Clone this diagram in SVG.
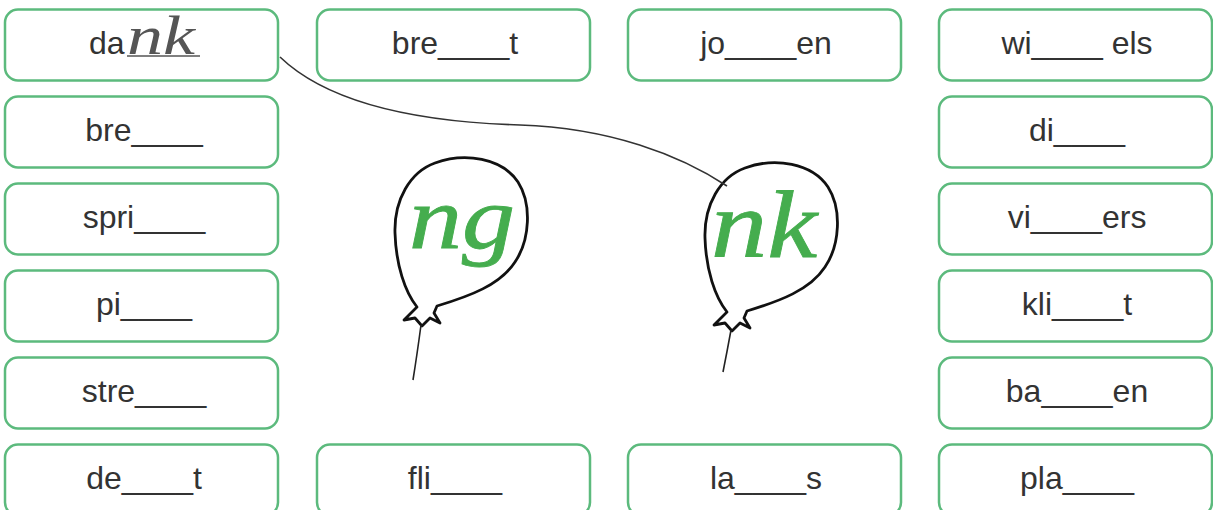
<svg xmlns="http://www.w3.org/2000/svg" width="1213" height="510" viewBox="0 0 1213 510">
<style>
.box{fill:#fff;stroke:#5cba7d;stroke-width:2.5}
.t{font-family:"Liberation Sans",Arial,sans-serif;font-size:32px;fill:#333;text-anchor:middle}
.hand{font-family:"Liberation Serif","Times New Roman",serif;font-style:italic}
.big{font-family:"Liberation Serif","Times New Roman",serif;font-style:italic;font-size:88px;fill:#45ad4e;stroke:#45ad4e;stroke-width:0.8}
.bal{fill:none;stroke:#111;stroke-width:2.8;stroke-linejoin:round}
.str{fill:none;stroke:#222;stroke-width:1.6}
.conn{fill:none;stroke:#333;stroke-width:1.6}
</style>
<defs>
<rect id="b" width="273" height="71" rx="13" class="box"/>
<path id="balloon" d="M417,307 C405,292 396,265 395,233 C394,200 410,172 435,163 C465,152 502,158 518,182 C532,204 530,240 515,262 C500,285 470,296 437,306 L434,313 L440,323 L430,318 L422,326 L415,318 L404,320 L412,312 Z"/>
</defs>
<rect width="1213" height="510" fill="#fff"/>

<g id="n-dank"><use href="#b" x="5" y="9.5"/><text class="t" y="54" style="text-anchor:start"><tspan x="89">da</tspan><tspan x="127" class="hand" style="font-size:54px;fill:#555" textLength="68" lengthAdjust="spacingAndGlyphs">nk</tspan></text><line x1="127" y1="56" x2="200" y2="56" stroke="#555" stroke-width="1.5"/></g>
<g id="n-bre"><use href="#b" x="5" y="96.5"/><text class="t" x="144" y="140.5">bre____</text></g>
<g id="n-spri"><use href="#b" x="5" y="183.5"/><text class="t" x="144" y="227.5">spri____</text></g>
<g id="n-pi"><use href="#b" x="5" y="270.5"/><text class="t" x="144" y="314.5">pi____</text></g>
<g id="n-stre"><use href="#b" x="5" y="357.5"/><text class="t" x="144" y="401.5">stre____</text></g>
<g id="n-de-t"><use href="#b" x="5" y="444.5"/><text class="t" x="144" y="488.5">de____t</text></g>

<g id="n-bre-t"><use href="#b" x="317" y="9.5"/><text class="t" x="455" y="53.5">bre____t</text></g>
<g id="n-fli"><use href="#b" x="317" y="444.5"/><text class="t" x="455" y="488.5">fli____</text></g>

<g id="n-jo-en"><use href="#b" x="628" y="9.5"/><text class="t" x="766" y="53.5">jo____en</text></g>
<g id="n-la-s"><use href="#b" x="628" y="444.5"/><text class="t" x="766" y="488.5">la____s</text></g>

<g id="n-wi-els"><use href="#b" x="939" y="9.5"/><text class="t" x="1077" y="53.5">wi____ els</text></g>
<g id="n-di"><use href="#b" x="939" y="96.5"/><text class="t" x="1077" y="140.5">di____</text></g>
<g id="n-vi-ers"><use href="#b" x="939" y="183.5"/><text class="t" x="1077" y="227.5">vi____ers</text></g>
<g id="n-kli-t"><use href="#b" x="939" y="270.5"/><text class="t" x="1077" y="314.5">kli____t</text></g>
<g id="n-ba-en"><use href="#b" x="939" y="357.5"/><text class="t" x="1077" y="401.5">ba____en</text></g>
<g id="n-pla"><use href="#b" x="939" y="444.5"/><text class="t" x="1077" y="488.5">pla____</text></g>

<g id="n-balloon-ng">
<use href="#balloon" class="bal"/>
<path class="str" d="M421,325 Q417,355 413,380"/>
<text class="big" x="409" y="248" textLength="106" lengthAdjust="spacingAndGlyphs">ng</text>
</g>
<g id="n-balloon-nk">
<use href="#balloon" class="bal" transform="translate(310,5)"/>
<path class="str" d="M731,330 Q727,352 723,372"/>
<text class="big" x="711" y="257" style="font-size:96px" textLength="106" lengthAdjust="spacingAndGlyphs">nk</text>
</g>

<g id="connectors">
<path class="conn" d="M280,57 C330,105 420,122 520,125 C610,128 680,155 727,186"/>
</g>
</svg>
